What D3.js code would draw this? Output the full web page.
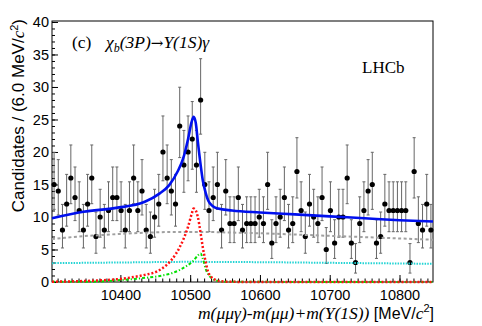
<!DOCTYPE html>
<html>
<head>
<meta charset="utf-8">
<script src="https://cdn.jsdelivr.net/npm/d3@7"></script>
<style>
body { margin: 0; background: #fff; }
svg { display: block; }
</style>
</head>
<body>
<svg width="482" height="326"></svg>
<script>
// histogram: 6 MeV bins starting at 10302
var binLo = 10302;
var binWidth = 6;
var counts = [15, 14, 8, 12, 16, 13, 11, 8, 12, 16,
              7, 10, 8, 11, 13, 13, 11, 8, 11, 16,
              11, 14, 8, 7, 10, 12, 20, 16, 14, 12,
              24, 18, 20, 22, 18, 28, 15, 11, 13, 15,
              8, 14, 9, 9, 13, 8, 9, 9, 9, 10,
              9, 15, 6, 9, 10, 13, 8, 9, 17, 11,
              7, 12, 10, 9, 13, 5, 11, 6, 10, 10,
              16, 6, 3, 9, 11, 14, 15, 6, 7, 12,
              11, 11, 11, 11, 11, 3, 17, 9, 8, 12, 8];

// fit curves
var totalMass = [10302, 10347, 10394, 10435, 10456, 10470, 10482, 10490, 10497, 10502, 10505, 10508, 10511, 10515, 10518, 10522, 10526, 10532, 10540, 10560, 10600, 10650, 10700, 10750, 10800, 10848];
var totalFit  = [9.8, 10.8, 11.4, 12.35, 13.6, 14.9, 17.0, 19.0, 22.0, 24.6, 25.4, 24.5, 21.6, 18.0, 15.7, 13.8, 12.5, 11.7, 11.3, 11.0, 10.7, 10.4, 10.1, 9.8, 9.5, 9.3];

var combMass = [10302, 10320, 10340, 10370, 10400, 10440, 10480, 10520, 10560, 10600, 10650, 10700, 10750, 10800, 10848];
var combBkg  = [6.6, 6.8, 7.0, 7.2, 7.4, 7.6, 7.7, 7.7, 7.6, 7.5, 7.3, 7.1, 6.9, 6.7, 6.5];

var flatMass = [10302, 10400, 10500, 10600, 10700, 10848];
var flatBkg  = [2.9, 3.0, 3.1, 3.05, 2.95, 2.8];

var sig1Mass = [10302, 10360, 10409, 10435, 10452, 10466, 10480, 10490, 10497, 10502, 10505, 10508, 10511, 10515, 10518, 10522, 10525, 10530, 10537, 10545, 10560, 10848];
var sig1     = [0.05, 0.2, 0.6, 1.1, 1.6, 2.6, 4.4, 6.5, 8.5, 10.4, 11.3, 11.0, 10.0, 7.5, 5.4, 3.2, 1.8, 0.8, 0.3, 0.1, 0.02, 0];

var sig2Mass = [10302, 10361, 10400, 10432, 10460, 10475, 10494, 10505, 10512, 10515, 10518, 10523, 10527, 10532, 10540, 10550, 10848];
var sig2     = [0.02, 0.05, 0.3, 0.6, 1.0, 1.4, 2.4, 3.3, 4.2, 4.4, 3.6, 1.8, 1.0, 0.5, 0.15, 0.03, 0];

var xTicks = [10400, 10500, 10600, 10700, 10800];
var yTicks = [0, 5, 10, 15, 20, 25, 30, 35, 40];

var svg = d3.select('svg');

var frameL = 52, frameR = 433, frameT = 21, frameB = 282;

var x = d3.scaleLinear().domain([10302, 10848]).range([frameL, frameR]);
var y = d3.scaleLinear().domain([0, 40.15]).range([frameB, frameT]);

// asymmetric poisson errors (68%)
function errLow(n) {
    return n * Math.pow(1 - 1 / (9 * n) - 1 / (3 * Math.sqrt(n)), 3);
}
function errHigh(n) {
    var m = n + 1;
    return m * Math.pow(1 - 1 / (9 * m) + 1 / (3 * Math.sqrt(m)), 3);
}

var pts = counts.map(function(c, i) {
    return {m: binLo + (i + 0.5) * binWidth, n: c};
});

// minor ticks first
svg.append('g')
    .attr('transform', 'translate(0,' + frameB + ')')
    .call(d3.axisBottom(x).tickValues(d3.range(10310, 10848, 10)).tickSize(-3.5).tickFormat(''))
    .call(function(g) { g.select('.domain').remove(); });
svg.append('g')
    .attr('transform', 'translate(' + frameL + ',0)')
    .call(d3.axisLeft(y).tickValues(d3.range(0, 41, 1)).tickSize(-3).tickFormat(''))
    .call(function(g) { g.select('.domain').remove(); });

var xAxis = svg.append('g')
    .attr('transform', 'translate(0,' + frameB + ')')
    .call(d3.axisBottom(x).tickValues(xTicks).tickSize(-7).tickPadding(8).tickFormat(d3.format('d')));
xAxis.select('.domain').remove();

var yAxis = svg.append('g')
    .attr('transform', 'translate(' + frameL + ',0)')
    .call(d3.axisLeft(y).tickValues(yTicks).tickSize(-6).tickPadding(3));
yAxis.select('.domain').remove();

svg.selectAll('.tick text')
    .attr('font-family', 'Liberation Sans, Arial, sans-serif')
    .attr('font-size', 14.5)
    .attr('fill', '#000');

// frame
svg.append('rect')
    .attr('x', frameL).attr('y', frameT)
    .attr('width', frameR - frameL).attr('height', frameB - frameT)
    .attr('fill', 'none').attr('stroke', '#000').attr('stroke-width', 1);

// error bars
var eb = svg.append('g').attr('stroke', '#666').attr('stroke-width', 1);
eb.selectAll('.bar')
    .data(pts).enter().append('line')
    .attr('x1', function(d) { return x(d.m); })
    .attr('x2', function(d) { return x(d.m); })
    .attr('y1', function(d) { return y(errHigh(d.n)); })
    .attr('y2', function(d) { return y(errLow(d.n)); });
eb.selectAll('.capTop')
    .data(pts).enter().append('line')
    .attr('x1', function(d) { return x(d.m) - 1.5; })
    .attr('x2', function(d) { return x(d.m) + 1.5; })
    .attr('y1', function(d) { return y(errHigh(d.n)); })
    .attr('y2', function(d) { return y(errHigh(d.n)); });
eb.selectAll('.capBot')
    .data(pts).enter().append('line')
    .attr('x1', function(d) { return x(d.m) - 1.5; })
    .attr('x2', function(d) { return x(d.m) + 1.5; })
    .attr('y1', function(d) { return y(errLow(d.n)); })
    .attr('y2', function(d) { return y(errLow(d.n)); });

svg.selectAll('.dataPoints')
    .data(pts).enter().append('circle')
    .attr('class', 'dataPoints')
    .attr('cx', function(d) { return x(d.m); })
    .attr('cy', function(d) { return y(d.n); })
    .attr('r', 2.6)
    .attr('fill', '#000');

// curves
function drawCurve(ms, vs, color, width, dash) {
    var line = d3.line()
        .x(function(d) { return x(d[0]); })
        .y(function(d) { return y(d[1]); })
        .curve(d3.curveMonotoneX);
    svg.append('path')
        .datum(d3.zip(ms, vs))
        .attr('d', line)
        .attr('fill', 'none')
        .attr('stroke', color)
        .attr('stroke-width', width)
        .attr('stroke-dasharray', dash);
}

drawCurve(combMass, combBkg, '#a0a0a0', 2, '3,2.5');
drawCurve(flatMass, flatBkg, '#22d4d4', 2, '1.5,1.2');
drawCurve(sig2Mass, sig2, '#00e000', 2, '3,2,1.2,2');
drawCurve(sig1Mass, sig1, '#ff1010', 2.5, '2,2');
drawCurve(totalMass, totalFit, '#0010ee', 2.6, null);

// labels
var serif = 'Liberation Serif, Times New Roman, serif';
var sans = 'Liberation Sans, Arial, sans-serif';

var title = svg.append('text')
    .attr('x', 72).attr('y', 48)
    .attr('font-family', serif).attr('font-size', 17.5);
title.append('tspan').text('(c)');
title.append('tspan').attr('x', 106).attr('font-style', 'italic').text('χ');
title.append('tspan').attr('font-style', 'italic').attr('font-size', 12).attr('dy', 4).text('b');
title.append('tspan').attr('font-style', 'italic').attr('dy', -4).text('(3P)');
title.append('tspan').attr('font-family', 'DejaVu Serif, serif').attr('font-size', 15).text('→');
title.append('tspan').attr('font-style', 'italic').text('Υ(1S)γ');

svg.append('text')
    .attr('x', 362).attr('y', 73)
    .attr('font-family', serif).attr('font-size', 17)
    .text('LHCb');

var xt = svg.append('text')
    .attr('x', 434).attr('y', 319)
    .attr('text-anchor', 'end')
    .attr('font-family', serif).attr('font-size', 17.5);
xt.append('tspan').attr('font-style', 'italic').text('m(μμγ)-m(μμ)+m(Υ(1S))');
xt.append('tspan').attr('font-family', sans).attr('font-size', 16).text(' [MeV/');
xt.append('tspan').attr('font-style', 'italic').text('c');
xt.append('tspan').attr('font-family', sans).attr('font-size', 11).attr('dy', -7).text('2');
xt.append('tspan').attr('font-family', sans).attr('font-size', 16).attr('dy', 7).text(']');

var yt = svg.append('text')
    .attr('transform', 'translate(24,19) rotate(-90)')
    .attr('text-anchor', 'end')
    .attr('font-family', sans).attr('font-size', 17);
yt.append('tspan').text('Candidates / (6.0 MeV/');
yt.append('tspan').attr('font-family', serif).attr('font-style', 'italic').text('c');
yt.append('tspan').attr('font-size', 11).attr('dy', -6).text('2');
yt.append('tspan').attr('dy', 6).text(')');
</script>
</body>
</html>
